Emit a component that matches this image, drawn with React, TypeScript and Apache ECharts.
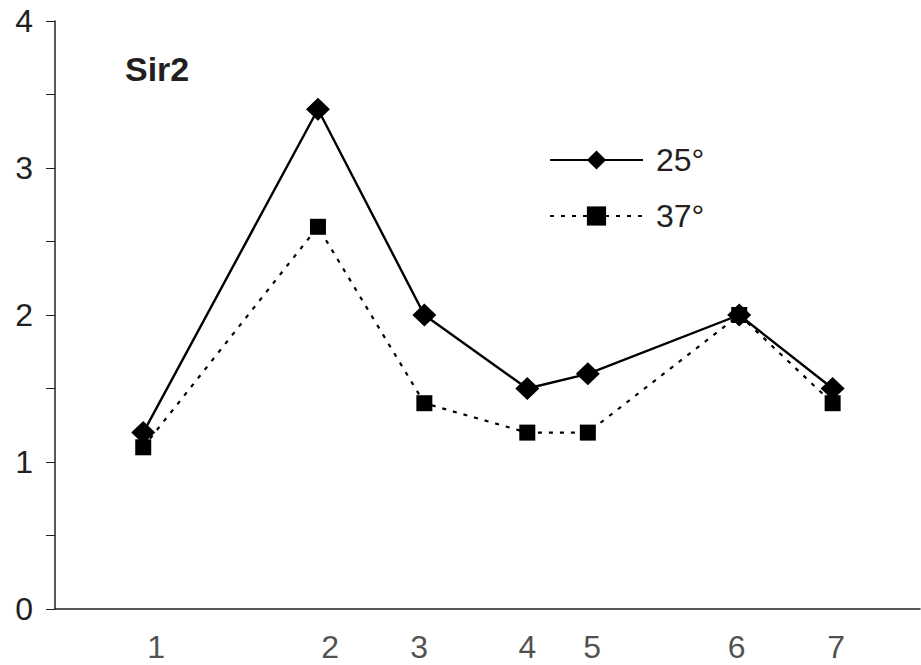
import React, { useEffect, useRef } from "react";
import * as echarts from "echarts";

// x positions of the measured points (on a hidden 0-100 axis)
const xPositions = [10.2, 30.4, 42.7, 54.6, 61.6, 79.1, 89.9];
const series25 = [1.2, 3.4, 2.0, 1.5, 1.6, 2.0, 1.5];
const series37 = [1.1, 2.6, 1.4, 1.2, 1.2, 2.0, 1.4];
const tickLabels = ["1", "2", "3", "4", "5", "6", "7"];
const tickLabelPositions = [11.7, 31.8, 42.1, 54.6, 62.1, 78.8, 90.3];
const seriesNames = ["25°", "37°"];
const title = "Sir2";

const INK = "#231f20";
const FONT = "'Liberation Sans', Arial, sans-serif";

export default function App() {
  const ref = useRef<HTMLDivElement>(null);
  useEffect(() => {
    document.body.style.margin = "0";
    if (!ref.current) return;
    const chart = echarts.init(ref.current, null, { renderer: "svg" });
    const pts = (vals: number[]) => vals.map((v, i) => [xPositions[i], v]);
    chart.setOption({
      animation: false,
      backgroundColor: "#ffffff",
      textStyle: { fontFamily: FONT },
      title: {
        text: title,
        left: 125,
        top: 52,
        padding: 0,
        textStyle: { fontSize: 34, fontWeight: "bold", color: INK, fontFamily: FONT },
      },
      legend: {
        data: seriesNames,
        orient: "vertical",
        left: 549,
        top: 144,
        itemWidth: 93,
        itemHeight: 24,
        itemGap: 24,
        padding: 0,
        textStyle: { fontSize: 32, color: INK, fontFamily: FONT, lineHeight: 24, padding: [0, 0, 0, 8] },
      },
      grid: { left: 55, right: 1, top: 21, bottom: 56, containLabel: false },
      xAxis: {
        type: "value",
        min: 0,
        max: 100,
        axisLine: { show: true, onZero: false, lineStyle: { color: INK, width: 1.5 } },
        axisTick: { show: false },
        axisLabel: { show: false },
        splitLine: { show: false },
      },
      yAxis: {
        type: "value",
        min: 0,
        max: 4,
        interval: 0.5,
        axisLine: { show: true, lineStyle: { color: INK, width: 1.5 } },
        axisTick: { show: true, inside: false, length: 9, lineStyle: { color: INK, width: 1 } },
        axisLabel: {
          margin: 22,
          fontSize: 32,
          color: INK,
          fontFamily: FONT,
          formatter: (v: number) => (Number.isInteger(v) ? String(v) : ""),
        },
        splitLine: { show: false },
      },
      series: [
        {
          name: seriesNames[1],
          type: "line",
          data: pts(series37),
          symbol: "rect",
          symbolSize: 16,
          itemStyle: { color: "#000" },
          lineStyle: { color: "#000", width: 2.2, type: [4, 7] },
          z: 2,
        },
        {
          name: seriesNames[0],
          type: "line",
          data: pts(series25),
          symbol: "diamond",
          symbolSize: [24, 23],
          itemStyle: { color: "#000" },
          lineStyle: { color: "#000", width: 2.4, type: "solid" },
          z: 3,
        },
        {
          name: "ticklabels",
          type: "scatter",
          data: tickLabelPositions.map((x, i) => ({ value: [x, 0], name: tickLabels[i] })),
          symbolSize: 1,
          itemStyle: { color: "rgba(0,0,0,0)" },
          silent: true,
          clip: false,
          label: {
            show: true,
            position: "bottom",
            distance: 21,
            formatter: (p: any) => p.name,
            fontSize: 32,
            color: INK,
            fontFamily: FONT,
          },
          z: 1,
        },
      ],
    });
    return () => chart.dispose();
  }, []);
  return <div ref={ref} style={{ width: 921, height: 665 }} />;
}
